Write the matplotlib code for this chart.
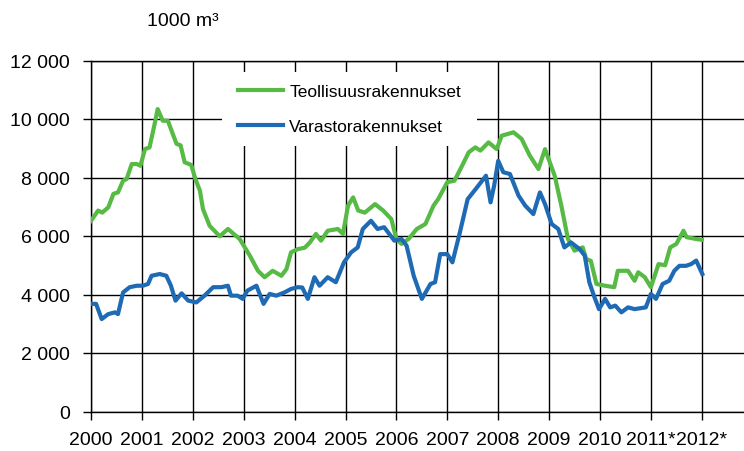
import matplotlib.pyplot as plt
from matplotlib.patches import Rectangle
from matplotlib.ticker import FuncFormatter

plt.rcParams['font.family'] = ['Liberation Sans', 'DejaVu Sans']

# Teollisuusrakennukset (vihreä), vuosi desimaalina
vuodet_t = [2000.0, 2000.14, 2000.22, 2000.34, 2000.44, 2000.53, 2000.63, 2000.7, 2000.8, 2000.9,
            2000.97, 2001.06, 2001.15, 2001.25, 2001.31, 2001.41, 2001.51, 2001.68, 2001.76, 2001.84,
            2001.97, 2002.05, 2002.14, 2002.2, 2002.33, 2002.53, 2002.69, 2002.92, 2003.12, 2003.28,
            2003.41, 2003.57, 2003.74, 2003.84, 2003.93, 2004.06, 2004.2, 2004.3, 2004.42, 2004.52,
            2004.65, 2004.85, 2004.95, 2005.05, 2005.15, 2005.25, 2005.38, 2005.58, 2005.74, 2005.9,
            2006.0, 2006.1, 2006.24, 2006.4, 2006.57, 2006.73, 2006.82, 2007.0, 2007.14, 2007.29,
            2007.42, 2007.55, 2007.65, 2007.81, 2007.97, 2008.07, 2008.3, 2008.46, 2008.62, 2008.79,
            2008.92, 2009.11, 2009.24, 2009.37, 2009.5, 2009.66, 2009.73, 2009.82, 2009.93, 2010.1,
            2010.28, 2010.35, 2010.55, 2010.68, 2010.75, 2010.88, 2011.0, 2011.15, 2011.28, 2011.38,
            2011.5, 2011.64, 2011.7, 2011.88, 2012.0]
teoll = [6520, 6870, 6800, 6980, 7440, 7490, 7890, 7950, 8460, 8460,
         8400, 8970, 9030, 9830, 10340, 9940, 9940, 9150, 9100, 8520,
         8430, 7950, 7550, 6920, 6350, 5990, 6240, 5900, 5330, 4810,
         4590, 4810, 4640, 4870, 5440, 5550, 5600, 5780, 6070, 5840,
         6180, 6240, 6070, 7040, 7320, 6870, 6800, 7090, 6870, 6580,
         5900, 5730, 5900, 6240, 6410, 7040, 7260, 7840, 7890, 8400,
         8860, 9030, 8920, 9200, 8970, 9430, 9545, 9320, 8750, 8290,
         8970, 8060, 7040, 5900, 5500, 5610, 5210, 5150, 4360, 4300,
         4250, 4810, 4810, 4470, 4760, 4590, 4250, 5040, 5000, 5610,
         5730, 6180, 5960, 5900, 5870]

# Varastorakennukset (sininen)
vuodet_v = [2000.0, 2000.1, 2000.21, 2000.34, 2000.47, 2000.53, 2000.63, 2000.76, 2000.9, 2001.02,
            2001.12, 2001.19, 2001.35, 2001.48, 2001.57, 2001.66, 2001.78, 2001.91, 2002.07, 2002.23,
            2002.4, 2002.56, 2002.69, 2002.75, 2002.88, 2002.98, 2003.07, 2003.25, 2003.39, 2003.51,
            2003.64, 2003.8, 2003.93, 2004.06, 2004.15, 2004.26, 2004.39, 2004.49, 2004.65, 2004.81,
            2004.97, 2005.11, 2005.24, 2005.34, 2005.5, 2005.63, 2005.76, 2005.96, 2006.1, 2006.2,
            2006.34, 2006.5, 2006.67, 2006.76, 2006.86, 2007.0, 2007.1, 2007.24, 2007.4, 2007.56,
            2007.76, 2007.85, 2007.92, 2008.0, 2008.1, 2008.23, 2008.4, 2008.53, 2008.69, 2008.82,
            2008.92, 2009.05, 2009.18, 2009.3, 2009.43, 2009.6, 2009.7, 2009.79, 2009.88, 2009.98,
            2010.1, 2010.2, 2010.3, 2010.42, 2010.55, 2010.68, 2010.9, 2011.0, 2011.1, 2011.23,
            2011.36, 2011.46, 2011.56, 2011.69, 2011.79, 2011.89, 2012.01]
varasto = [3680, 3680, 3160, 3330, 3390, 3330, 4070, 4250, 4300, 4300,
           4360, 4640, 4700, 4640, 4300, 3790, 4040, 3790, 3730, 3960,
           4250, 4250, 4300, 3960, 3960, 3850, 4130, 4300, 3680, 4020,
           3960, 4070, 4190, 4250, 4240, 3850, 4590, 4300, 4590, 4420,
           5100, 5440, 5610, 6240, 6520, 6240, 6300, 5840, 5900, 5670,
           4640, 3850, 4360, 4420, 5380, 5380, 5100, 6070, 7260, 7610,
           8060, 7150, 7720, 8570, 8180, 8120, 7380, 7040, 6750, 7490,
           7090, 6410, 6240, 5610, 5780, 5550, 5330, 4420, 3960, 3500,
           3850, 3560, 3620, 3390, 3560, 3500, 3560, 4020, 3850, 4360,
           4470, 4810, 4980, 4980, 5040, 5160, 4700]

tick_vuodet = list(range(2000, 2013))
tick_tekstit = ['2000', '2001', '2002', '2003', '2004', '2005', '2006', '2007', '2008', '2009',
                '2010', '2011*', '2012*']
y_ticks = [0, 2000, 4000, 6000, 8000, 10000, 12000]

W, H = 744, 452
fig = plt.figure(figsize=(W / 100, H / 100), dpi=100)
ax = fig.add_axes([91 / W, 1 - 412.5 / H, 1 - 91 / W, (412.5 - 61.5) / H])

ax.plot(vuodet_t, teoll, color='#56BA45', lw=3, label='Teollisuusrakennukset', zorder=3)
ax.plot(vuodet_v, varasto, color='#1F6AB4', lw=3, label='Varastorakennukset', zorder=3)

ax.set_xlim(2000, 2000 + (W - 91) / 50.9)
ax.set_ylim(0, 12000)
ax.set_xticks(tick_vuodet)
ax.set_xticklabels(tick_tekstit)
ax.set_yticks(y_ticks)
ax.yaxis.set_major_formatter(FuncFormatter(lambda v, p: f'{int(v):,}'.replace(',', ' ')))
ax.grid(True, color='black', lw=1)
ax.set_axisbelow(True)
ax.tick_params(axis='both', labelsize=14, length=6, width=1, color='black', direction='out')
ax.tick_params(axis='y', pad=9)
ax.tick_params(axis='x', pad=8)
ax.spines['right'].set_visible(False)
for s in ['left', 'bottom', 'top']:
    ax.spines[s].set_color('black')
    ax.spines[s].set_linewidth(1)

# selitteen valkoinen tausta peittää ruudukon
ax.add_patch(Rectangle((222 / W, 1 - 147 / H), 255 / W, 74 / H, transform=fig.transFigure,
                       facecolor='white', edgecolor='none', zorder=2.5, clip_on=False))

leg = ax.legend(loc='upper left', bbox_to_anchor=(238 / W, 1 - 85 / H),
                bbox_transform=fig.transFigure, fontsize=12.5, frameon=False,
                handlelength=2.6, handletextpad=0.35, labelspacing=1.12, borderpad=0,
                borderaxespad=0)
leg.set_zorder(5)

fig.text(147 / W, 1 - 22 / H, '1000 m³', fontsize=14, va='center', ha='left')

fig.savefig('out.png', dpi=100)
